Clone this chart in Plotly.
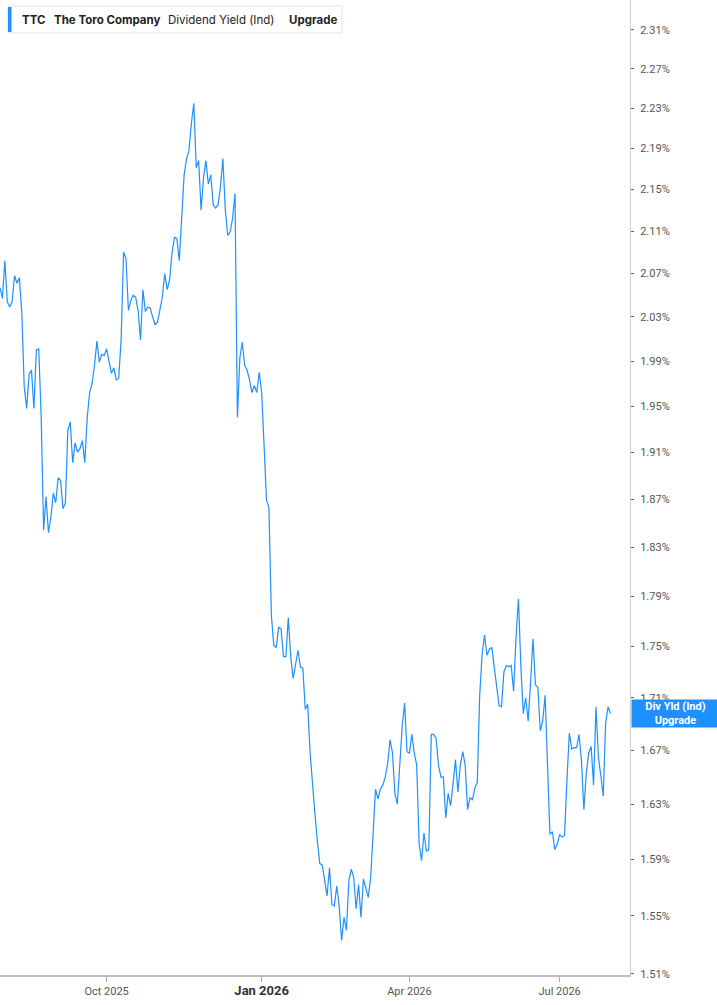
import math
import pandas as pd
import plotly.graph_objects as go

# ---------------- data ----------------
ticker = "TTC"
company = "The Toro Company"
metric = "Dividend Yield (Ind)"
start_date = "2025-07-30"
market_holidays = ["2025-09-01", "2025-11-27", "2025-12-25", "2026-01-01", "2026-01-19",
                   "2026-02-16", "2026-04-03", "2026-05-25", "2026-06-19", "2026-07-03"]

# daily dividend yield (%), one value per trading day
div_yield = [
    2.057, 2.047, 2.082, 2.044, 2.039, 2.044, 2.068, 2.061, 2.066, 2.034,
    1.967, 1.948, 1.978, 1.982, 1.948, 2.000, 2.001, 1.940, 1.844, 1.872,
    1.842, 1.855, 1.875, 1.867, 1.888, 1.886, 1.862, 1.867, 1.929, 1.936,
    1.901, 1.918, 1.910, 1.913, 1.920, 1.901, 1.940, 1.962, 1.970, 1.986,
    2.008, 1.989, 1.996, 1.995, 2.001, 1.988, 1.979, 1.984, 1.973, 1.975,
    2.009, 2.090, 2.084, 2.036, 2.045, 2.050, 2.048, 2.036, 2.009, 2.055,
    2.035, 2.039, 2.038, 2.030, 2.023, 2.025, 2.035, 2.048, 2.070, 2.055,
    2.064, 2.089, 2.104, 2.103, 2.082, 2.118, 2.164, 2.180, 2.188, 2.215,
    2.235, 2.171, 2.178, 2.130, 2.161, 2.178, 2.155, 2.164, 2.135, 2.132,
    2.135, 2.152, 2.180, 2.130, 2.106, 2.109, 2.122, 2.146, 1.940, 1.993,
    2.007, 1.986, 1.982, 1.973, 1.962, 1.968, 1.962, 1.980, 1.962, 1.916,
    1.869, 1.863, 1.775, 1.751, 1.749, 1.765, 1.764, 1.742, 1.742, 1.773,
    1.742, 1.725, 1.738, 1.747, 1.734, 1.733, 1.701, 1.705, 1.668, 1.642,
    1.623, 1.603, 1.587, 1.586, 1.573, 1.564, 1.584, 1.558, 1.557, 1.571,
    1.557, 1.533, 1.549, 1.540, 1.575, 1.583, 1.577, 1.555, 1.572, 1.549,
    1.576, 1.569, 1.563, 1.577, 1.609, 1.641, 1.634, 1.641, 1.644, 1.650,
    1.660, 1.678, 1.668, 1.638, 1.630, 1.662, 1.688, 1.706, 1.669, 1.668,
    1.682, 1.668, 1.659, 1.601, 1.589, 1.609, 1.596, 1.597, 1.682, 1.682,
    1.679, 1.659, 1.650, 1.650, 1.620, 1.638, 1.629, 1.645, 1.663, 1.639,
    1.659, 1.669, 1.659, 1.626, 1.635, 1.633, 1.642, 1.646, 1.712, 1.744,
    1.759, 1.743, 1.748, 1.749, 1.735, 1.718, 1.704, 1.703, 1.730, 1.735,
    1.734, 1.735, 1.715, 1.757, 1.788, 1.734, 1.698, 1.710, 1.692, 1.722,
    1.756, 1.720, 1.718, 1.685, 1.692, 1.712, 1.651, 1.608, 1.610, 1.597,
    1.601, 1.608, 1.606, 1.607, 1.647, 1.683, 1.671, 1.672, 1.672, 1.682,
    1.662, 1.626, 1.653, 1.668, 1.673, 1.644, 1.703, 1.665, 1.651, 1.636,
    1.691, 1.703, 1.698,
]

y_ticks = [1.51, 1.55, 1.59, 1.63, 1.67, 1.71, 1.75, 1.79, 1.83, 1.87, 1.91,
           1.95, 1.99, 2.03, 2.07, 2.11, 2.15, 2.19, 2.23, 2.27, 2.31]
y_tick_labels = [f"{v:.2f}%" for v in y_ticks]
x_ticks = ["2025-10-01", "2026-01-02", "2026-04-01", "2026-07-01"]
x_tick_labels = ["Oct 2025", "<span style='font-size:13px;fill:#333'><b>Jan 2026</b></span>",
                 "Apr 2026", "Jul 2026"]

dates = pd.date_range(start=start_date, periods=len(div_yield),
                      freq=pd.offsets.CustomBusinessDay(holidays=market_holidays))

# ---------------- figure ----------------
LINE = "#1E90FF"
PLOT_W, PLOT_H = 630, 975

def px(xp):
    return xp / PLOT_W

def py(yp):
    return 1 - yp / PLOT_H

fig = go.Figure()
fig.add_trace(go.Scatter(x=dates, y=div_yield, mode="lines",
                         line=dict(color=LINE, width=1.2), hoverinfo="skip"))

fig.update_layout(
    width=717, height=1005,
    margin=dict(l=0, r=87, t=0, b=30),
    paper_bgcolor="white", plot_bgcolor="white",
    showlegend=False,
    font=dict(family="Roboto, Inter, sans-serif", size=11, color="#555"),
)

fig.update_xaxes(
    range=["2025-07-30", "2026-08-12 01:00"],
    rangebreaks=[dict(bounds=["sat", "mon"]), dict(values=market_holidays)],
    tickmode="array", tickvals=x_ticks, ticktext=x_tick_labels,
    ticks="outside", ticklen=5, tickcolor="#aaaaaa", tickwidth=1,
    showline=True, linecolor="#bdbdbd", linewidth=2,
    showgrid=False, zeroline=False,
    tickfont=dict(size=11, color="#555"),
)

fig.update_yaxes(
    type="log", side="right",
    range=[math.log10(1.5093), math.log10(2.3414)],
    tickmode="array", tickvals=y_ticks, ticktext=y_tick_labels,
    ticks="outside", ticklen=3, tickcolor="#666", tickwidth=1,
    showline=True, linecolor="#cccccc", linewidth=1,
    showgrid=False, zeroline=False,
    tickfont=dict(size=11, color="#555"),
    ticklabelstandoff=4,
)

# header box (top-left)
fig.add_shape(type="rect", xref="paper", yref="paper",
              x0=px(8), x1=px(342), y0=py(33), y1=py(6),
              line=dict(color="#e3e3e3", width=1), fillcolor="white", layer="above")
fig.add_shape(type="rect", xref="paper", yref="paper",
              x0=px(8), x1=px(11.5), y0=py(32), y1=py(7),
              line=dict(width=0), fillcolor=LINE, layer="above")

header_items = [
    (20, f"<b>{ticker}</b>"),
    (52, f"<b>{company}</b>"),
    (166, metric),
    (287, "<b>Upgrade</b>"),
]
for xp, txt in header_items:
    fig.add_annotation(xref="paper", yref="paper", x=px(xp), y=py(19.5),
                       xanchor="left", yanchor="middle", showarrow=False,
                       text=txt, font=dict(family="Inter, Roboto, sans-serif",
                                           size=11.5, color="#222"))

# end-of-series label
fig.add_annotation(xref="paper", yref="y", x=1, xshift=1, xanchor="left",
                   y=math.log10(div_yield[-1]), yanchor="middle",
                   text="<b>Div Yld (Ind)<br>Upgrade</b>", showarrow=False,
                   bgcolor=LINE, borderpad=1, width=85, height=25, align="center",
                   font=dict(family="Roboto, sans-serif", size=11, color="white"))

fig.write_html("out.html", post_script="document.body.style.margin='0';",
               config={"displayModeBar": False})
